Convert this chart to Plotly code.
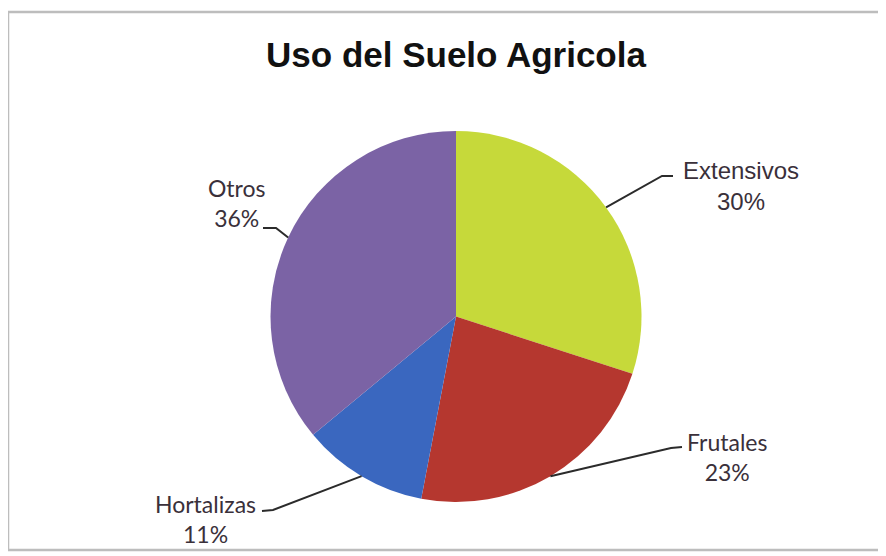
import numpy as np
import plotly.graph_objects as go

categories = ["Extensivos", "Frutales", "Hortalizas", "Otros"]
values = [30, 23, 11, 36]
colors = ["#C6D93A", "#B5372F", "#3A67BF", "#7B63A5"]

# page body has an 8px margin; work in window pixels and convert
OFF = 8
W, H = 886 - OFF, 556 - OFF
cx, cy, R = 456, 316.5, 185.5

label_pos = {
    "Extensivos": dict(elbow=(662, 176), end=(673, 176), text=(741, 186),
                       font="Liberation Sans, Arial, sans-serif", size=24),
    "Frutales": dict(elbow=(671, 448), end=(682, 447), text=(727, 457),
                     font="Lato, sans-serif", size=23),
    "Hortalizas": dict(elbow=(273, 510), end=(262, 511), text=(205, 519),
                       font="Lato, sans-serif", size=23),
    "Otros": dict(elbow=(276, 228), end=(263, 228), text=(237, 203),
                  font="Lato, sans-serif", size=23),
}

def px(x):
    return (x - OFF) / W

def py(y):
    return 1 - (y - OFF) / H

fig = go.Figure()
fig.add_trace(go.Pie(
    labels=categories, values=values, sort=False, direction="clockwise",
    rotation=0, marker=dict(colors=colors, line=dict(width=0)),
    textinfo="none", hoverinfo="label+percent", showlegend=False,
    domain=dict(x=[px(cx - R), px(cx + R)], y=[py(cy + R), py(cy - R)]),
))

shapes = [dict(type="rect", xref="paper", yref="paper",
               x0=px(8), x1=px(900), y0=py(550), y1=py(12),
               line=dict(color="#BDBDBD", width=2.5))]
annotations = []
total = sum(values)
cum = np.cumsum([0] + values)
for i, cat in enumerate(categories):
    mid = (cum[i] + values[i] / 2) / total * 2 * np.pi
    sx = cx + R * np.sin(mid)
    sy = cy - R * np.cos(mid)
    lp = label_pos[cat]
    path = (f"M {px(sx)} {py(sy)} L {px(lp['elbow'][0])} {py(lp['elbow'][1])} "
            f"L {px(lp['end'][0])} {py(lp['end'][1])}")
    shapes.append(dict(type="path", xref="paper", yref="paper", path=path,
                       line=dict(color="#2B2B2B", width=2)))
    pct = round(values[i] / total * 100)
    annotations.append(dict(
        xref="paper", yref="paper", x=px(lp["text"][0]), y=py(lp["text"][1]),
        text=f"{cat}<br>{pct}%", showarrow=False, xanchor="center", yanchor="middle",
        font=dict(family=lp["font"], size=lp["size"], color="#3A303A"),
    ))

fig.update_layout(
    width=W, height=H, margin=dict(l=0, r=0, t=0, b=0),
    paper_bgcolor="white", plot_bgcolor="white",
    title=dict(text="<b>Uso del Suelo Agricola</b>", x=px(456), xanchor="center",
               y=py(55), yanchor="middle",
               font=dict(family="Liberation Sans, Arial, sans-serif", size=35, color="#111111")),
    shapes=shapes, annotations=annotations,
)
fig.write_html("out.html")
